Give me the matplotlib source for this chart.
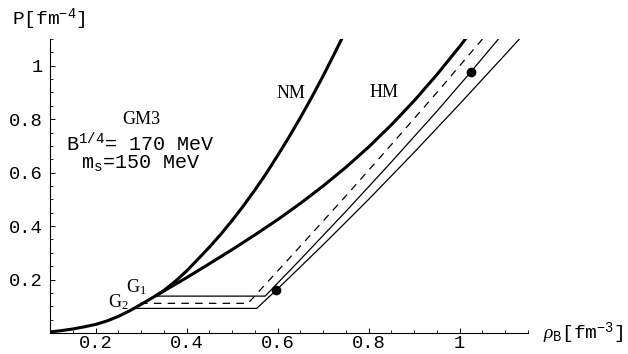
import matplotlib
matplotlib.use("Agg")
import matplotlib.pyplot as plt
from matplotlib.ticker import MultipleLocator, FuncFormatter

plt.rcParams['font.family'] = ['Liberation Mono', 'DejaVu Sans Mono']
plt.rcParams['mathtext.fontset'] = 'custom'
plt.rcParams['mathtext.rm'] = 'Liberation Mono'
plt.rcParams['mathtext.tt'] = 'Liberation Mono'
plt.rcParams['mathtext.it'] = 'Liberation Serif:italic'
plt.rcParams['mathtext.sf'] = 'Liberation Serif'

# curva NM (materia nuclear)
nm_x = [0.10, 0.125, 0.15, 0.175, 0.20, 0.225, 0.25, 0.275, 0.30, 0.331, 0.35, 0.375, 0.40,
        0.425, 0.45, 0.475, 0.50, 0.525, 0.55, 0.575, 0.60, 0.625, 0.65, 0.675, 0.70, 0.725, 0.75]
nm_y = [0.004, 0.009, 0.015, 0.023, 0.032, 0.045, 0.062, 0.083, 0.107, 0.138, 0.159, 0.193, 0.232,
        0.276, 0.321, 0.369, 0.421, 0.476, 0.535, 0.597, 0.664, 0.733, 0.806, 0.882, 0.962, 1.046, 1.132]

# curva HM (materia hibrida)
hm_x = [0.331, 0.35, 0.40, 0.45, 0.50, 0.55, 0.60, 0.65, 0.70, 0.75, 0.80, 0.85, 0.90, 0.95, 1.00, 1.05]
hm_y = [0.138, 0.157, 0.207, 0.259, 0.312, 0.367, 0.424, 0.485, 0.55, 0.62, 0.696, 0.779, 0.869, 0.967, 1.072, 1.184]

# fases mistas
tr_dash_x = [0.298, 0.535, 0.65, 0.75, 0.85, 0.95, 1.05]
tr_dash_y = [0.111, 0.111, 0.325, 0.513, 0.705, 0.90, 1.10]
tr_g1_x = [0.331, 0.5725, 0.65, 0.75, 0.85, 0.95, 1.024, 1.09]
tr_g1_y = [0.138, 0.138, 0.275, 0.455, 0.64, 0.83, 0.976, 1.11]
tr_g2_x = [0.283, 0.554, 0.60, 0.70, 0.80, 0.90, 1.00, 1.10, 1.15]
tr_g2_y = [0.092, 0.092, 0.165, 0.33, 0.50, 0.676, 0.857, 1.042, 1.135]

pontos_x = [0.597, 1.024]
pontos_y = [0.160, 0.976]

fig = plt.figure(figsize=(6.28, 3.54), dpi=100)
ax = fig.add_axes([50/628, 21/354, 478/628, 294/354])

ax.plot(nm_x, nm_y, color='black', lw=2.2, solid_capstyle='butt')
ax.plot(hm_x, hm_y, color='black', lw=2.2, solid_capstyle='butt')
ax.plot(tr_dash_x, tr_dash_y, color='black', lw=0.9, linestyle=(0, (6, 5)))
ax.plot(tr_g1_x, tr_g1_y, color='black', lw=0.9)
ax.plot(tr_g2_x, tr_g2_y, color='black', lw=0.9)
ax.plot(pontos_x, pontos_y, 'o', color='black', markersize=6)

ax.set_xlim(0.1, 1.15)
ax.set_ylim(0, 1.1)
ax.spines['top'].set_visible(False)
ax.spines['right'].set_visible(False)
ax.spines['left'].set_linewidth(0.8)
ax.spines['bottom'].set_linewidth(0.8)

ax.xaxis.set_major_locator(MultipleLocator(0.2))
ax.xaxis.set_minor_locator(MultipleLocator(0.05))
ax.yaxis.set_major_locator(MultipleLocator(0.2))
ax.yaxis.set_minor_locator(MultipleLocator(0.05))

def fmt(v, pos):
    if abs(v) < 1e-9:
        return ''
    s = ('%.1f' % v)
    if s.endswith('.0'):
        s = s[:-2]
    return s

ax.xaxis.set_major_formatter(FuncFormatter(fmt))
ax.yaxis.set_major_formatter(FuncFormatter(fmt))
ax.tick_params(which='major', direction='in', length=3.5, width=0.7, labelsize=13.5)
ax.tick_params(which='minor', direction='in', length=2, width=0.6)
ax.tick_params(axis='y', which='major', pad=5)
ax.tick_params(axis='x', which='major', pad=1.5)

fig.text(12/628, 1 - 24/354, r'P[fm$^{\mathrm{-4}}$]', fontsize=14, ha='left', va='baseline')
fig.text(543/628, 1 - 338/354, r'$\rho_{\mathrm{B}}$[fm$^{\mathrm{-3}}$]', fontsize=14, ha='left', va='baseline')

ax.text(0.30, 0.80, 'GM3', family='Liberation Serif', fontsize=13, ha='center', va='center')
ax.text(0.298, 0.71, r'B$^{\mathrm{1/4}}$= 170 MeV', fontsize=14.5, ha='center', va='center')
ax.text(0.30, 0.635, r'm$_{\mathrm{s}}$=150 MeV', fontsize=14.5, ha='center', va='center')
ax.text(0.629, 0.897, 'NM', family='Liberation Serif', fontsize=13, ha='center', va='center')
ax.text(0.833, 0.90, 'HM', family='Liberation Serif', fontsize=13, ha='center', va='center')
ax.text(0.268, 0.17, r'$\mathsf{G}_{\mathsf{1}}$', fontsize=13, ha='left', va='center')
ax.text(0.2275, 0.117, r'$\mathsf{G}_{\mathsf{2}}$', fontsize=13, ha='left', va='center')

fig.savefig('out.png', dpi=100)
